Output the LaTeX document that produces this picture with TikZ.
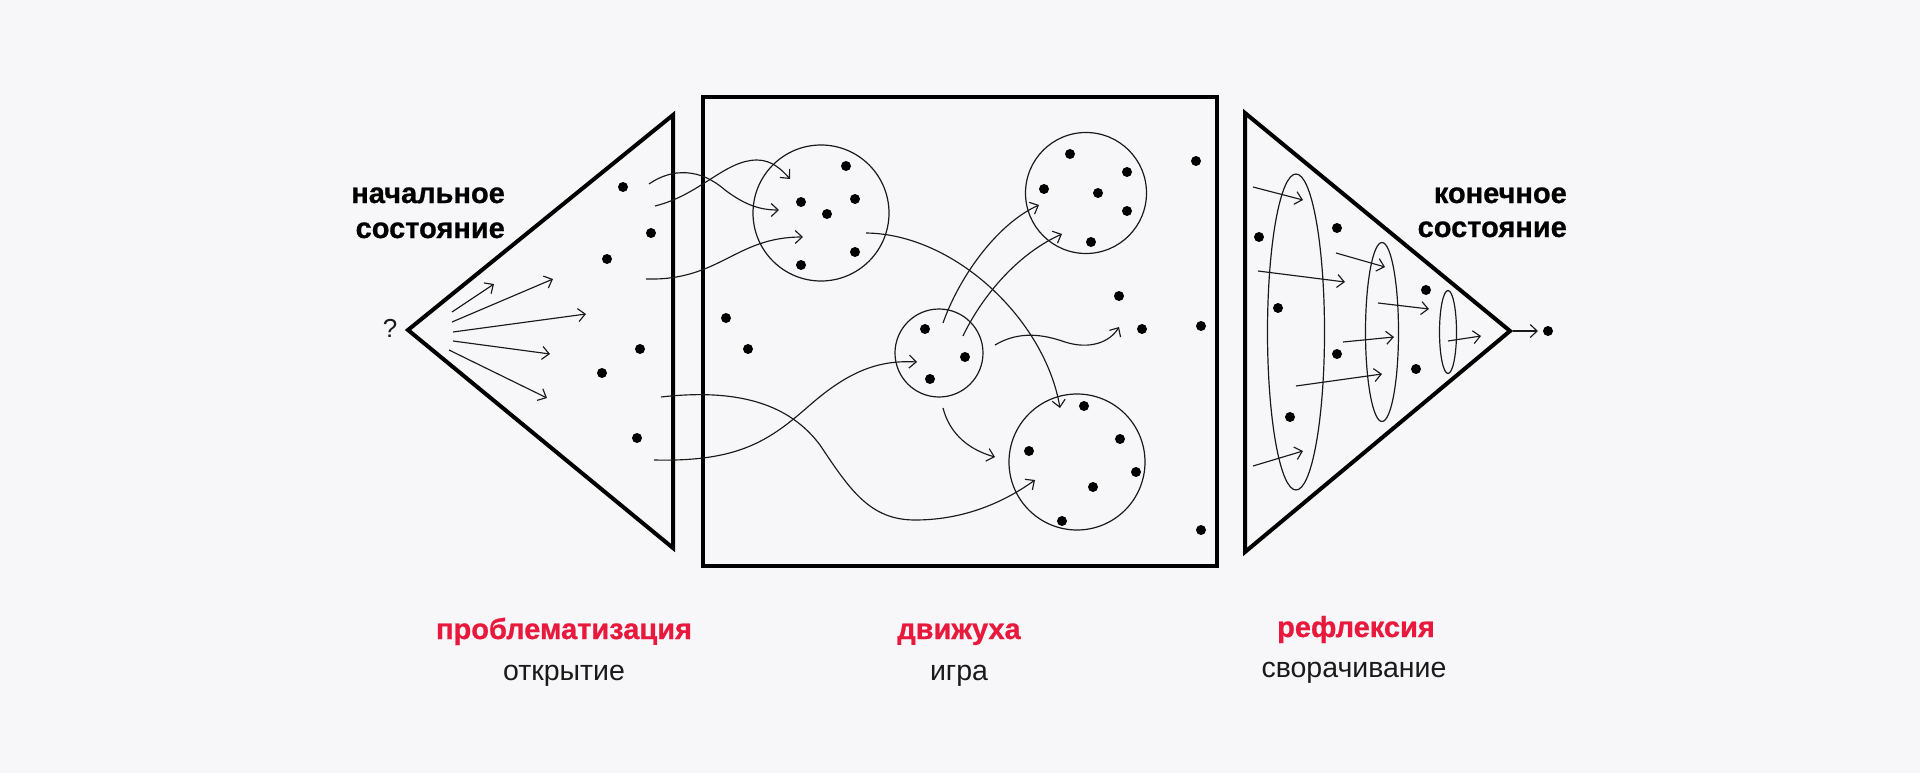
\documentclass[tikz,border=0pt]{standalone}
\usepackage{fontspec}
\setmainfont{Liberation Sans}
\newfontface\heavyface{Liberation Sans Bold}[FakeBold=0.8]
\usepackage{tikz}
\usetikzlibrary{arrows.meta,shapes.geometric}

\definecolor{paper}{HTML}{F7F7F9}
\definecolor{accent}{HTML}{E8193C}
\definecolor{ink}{HTML}{1A1A1A}

\tikzset{
  frame/.style={draw=black, line width=4pt},
  blob/.style={circle, draw=ink, line width=1.2pt, inner sep=0pt},
  oval/.style={ellipse, draw=ink, line width=1.2pt, inner sep=0pt},
  pt/.style={circle, fill=black, inner sep=0pt, minimum size=10pt},
  flow/.style={draw=ink, line width=1.15pt, -{Straight Barb[length=7pt,width=13pt]}},
  head/.style={font=\fontsize{29}{34}\selectfont\heavyface, inner sep=0pt},
  sub/.style={font=\fontsize{28.5}{32}\selectfont, text=ink, inner sep=0pt},
}

\begin{document}
\begin{tikzpicture}[x={(1pt,0)}, y={(0,-1pt)}]
  \fill[paper] (0,0) rectangle (1920,773);
  \useasboundingbox (0,0) rectangle (1920,773);

  \draw[frame] (408,330) coordinate (open) -- (673,115) -- (673,548) -- cycle;
  \node[frame, minimum width=514pt, minimum height=469pt] (game) at (960,331.5) {};
  \draw[frame] (1510,331) coordinate (close) -- (1245,113) -- (1245,552) -- cycle;

  \node[blob, minimum size=136pt] (c1) at (821,213) {};
  \node[blob, minimum size=121pt] (c2) at (1086,193) {};
  \node[blob, minimum size=88pt] (c0) at (939,353) {};
  \node[blob, minimum size=136pt] (c3) at (1077,462) {};

  \node[oval, minimum width=57pt, minimum height=316pt] (e1) at (1296,332) {};
  \node[oval, minimum width=33pt, minimum height=179pt] (e2) at (1382,332) {};
  \node[oval, minimum width=17pt, minimum height=83pt] (e3) at (1448,332) {};

  \foreach \p [count=\i] in {(623,187),(651,233),(607,259),(640,349),(602,373),(637,438),
    (726,318),(748,349),(1196,161),(1119,296),(1142,329),(1201,326),(1201,530),
    (846,166),(801,202),(855,199),(827,214),(855,252),(801,265),
    (1070,154),(1127,172),(1044,189),(1098,193),(1127,211),(1091,242),
    (925,329),(965,357),(930,379),
    (1084,406),(1120,439),(1029,451),(1136,472),(1093,487),(1062,521),
    (1259,237),(1278,308),(1337,228),(1337,354),(1290,417),(1426,290),(1416,369)}
    \node[pt] (d\i) at \p {};
  \node[pt] (final) at (1548,331) {};

  \foreach \sx/\sy/\ex/\ey [count=\i] in {452/312/494/284, 452/322/553/279,
    453/332/586/314, 453/341/550/354, 449/350/547/398}
  {
    \coordinate (fs\i) at (\sx,\sy);
    \coordinate (fe\i) at (\ex,\ey);
    \draw[flow] (fs\i) -- (fe\i);
  }

  \foreach \sx/\sy/\ex/\ey [count=\i] in {1253/187/1303/200, 1258/271/1345/282,
    1296/386/1382/374, 1253/466/1303/451, 1336/253/1385/267, 1343/342/1394/337,
    1378/303/1429/309, 1448/341/1481/336, 1513/331/1538/331}
  {
    \coordinate (rs\i) at (\sx,\sy);
    \coordinate (re\i) at (\ex,\ey);
    \draw[flow] (rs\i) -- (re\i);
  }

  \coordinate (a0) at (649,184);  \coordinate (a1) at (779,210);
  \coordinate (b0) at (655,206);  \coordinate (b1) at (790,179);
  \coordinate (g0) at (646,279);  \coordinate (g1) at (803,237);
  \coordinate (k0) at (661,397);  \coordinate (k1) at (1035,480);
  \coordinate (m0) at (654,460);  \coordinate (m1) at (917,362);
  \coordinate (f0) at (866,233);  \coordinate (f1) at (1060,408);
  \coordinate (u0) at (943,323);  \coordinate (u1) at (1039,205);
  \coordinate (v0) at (963,336);  \coordinate (v1) at (1062,234);
  \coordinate (w0) at (995,345);  \coordinate (w1) at (1119,327);
  \coordinate (j0) at (943,408);  \coordinate (j1) at (995,457);

  \draw[flow] (a0) .. controls (672,168) and (700,168) .. (725,190)
    .. controls (745,205) and (760,210) .. (a1);
  \draw[flow] (b0) .. controls (700,195) and (725,160) .. (757,160)
    .. controls (772,160) and (782,170) .. (b1);
  \draw[flow] (g0) .. controls (720,281) and (735,237) .. (g1);
  \draw[flow] (k0) .. controls (740,388) and (790,405) .. (820,445)
    .. controls (850,490) and (870,520) .. (915,520)
    .. controls (960,520) and (1000,505) .. (k1);
  \draw[flow] (m0) .. controls (740,462) and (770,440) .. (810,405)
    .. controls (850,370) and (880,360) .. (m1);
  \draw[flow] (f0) .. controls (955,234) and (1045,320) .. (f1);
  \draw[flow] (u0) .. controls (958,280) and (995,225) .. (u1);
  \draw[flow] (v0) .. controls (980,300) and (1015,255) .. (v1);
  \draw[flow] (w0) .. controls (1020,330) and (1045,335) .. (1065,342)
    .. controls (1090,350) and (1110,342) .. (w1);
  \draw[flow] (j0) .. controls (950,435) and (970,450) .. (j1);

  \node[head, anchor=base east] (start1) at (505,203) {начальное};
  \node[head, anchor=base east] (start2) at (505,238) {состояние};
  \node[head, anchor=base east] (end1) at (1567,203) {конечное};
  \node[head, anchor=base east] (end2) at (1567,237) {состояние};
  \node[sub, anchor=base, font=\fontsize{26}{30}\selectfont] (ask) at (390,337) {?};

  \node[head, text=accent, anchor=base] (phase1) at (564,639) {проблематизация};
  \node[sub, anchor=base] (mode1) at (564,680) {открытие};
  \node[head, text=accent, anchor=base] (phase2) at (959,639) {движуха};
  \node[sub, anchor=base] (mode2) at (959,680) {игра};
  \node[head, text=accent, anchor=base] (phase3) at (1356,637) {рефлексия};
  \node[sub, anchor=base] (mode3) at (1354,677) {сворачивание};
\end{tikzpicture}
\end{document}
